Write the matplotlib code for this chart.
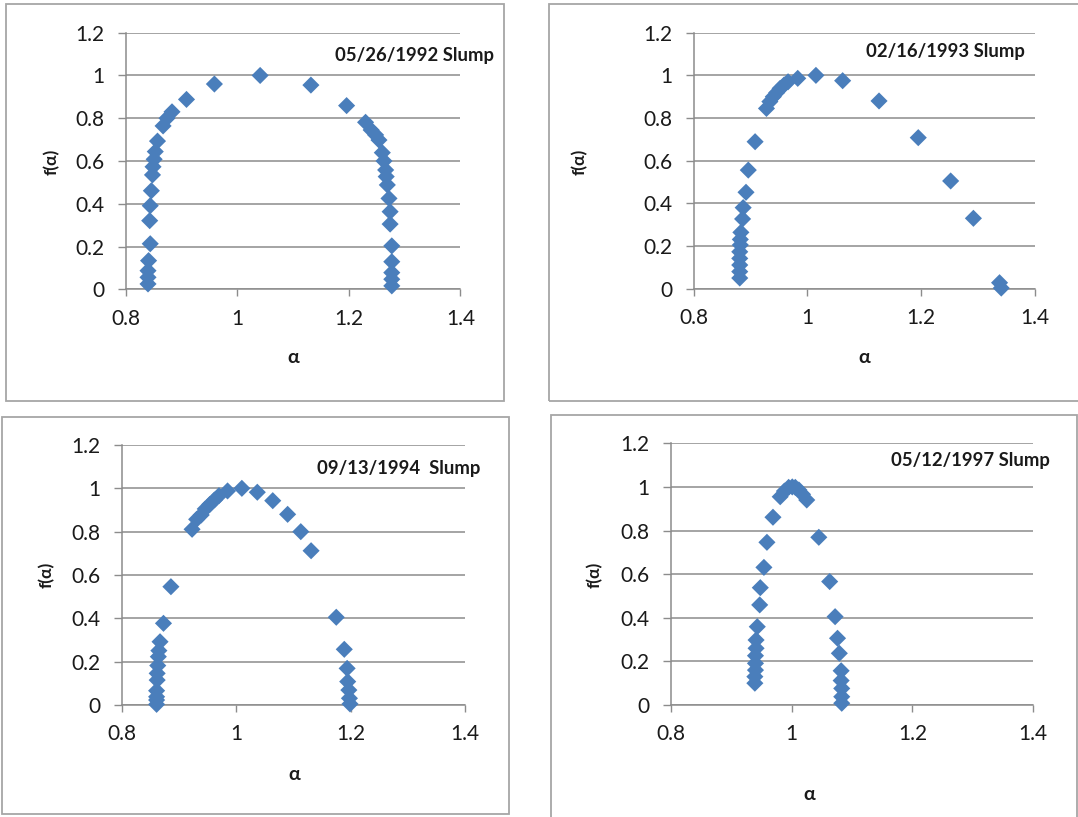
import matplotlib
matplotlib.use("Agg")
import matplotlib.pyplot as plt
from matplotlib.patches import Rectangle

# multifractal spectra
alpha_1992 = [0.840, 0.840, 0.840, 0.841, 0.844, 0.843, 0.844, 0.846, 0.848, 0.849,
              0.851, 0.853, 0.857, 0.867, 0.874, 0.883, 0.909, 0.959, 1.041, 1.132,
              1.196, 1.230, 1.240, 1.248, 1.254, 1.260, 1.263, 1.266, 1.267, 1.269,
              1.272, 1.274, 1.274, 1.277, 1.277, 1.277, 1.277, 1.277]
f_1992 = [0.025, 0.056, 0.087, 0.134, 0.213, 0.321, 0.391, 0.461, 0.535, 0.573,
          0.608, 0.644, 0.693, 0.764, 0.800, 0.830, 0.888, 0.960, 1.000, 0.955,
          0.859, 0.781, 0.745, 0.722, 0.698, 0.639, 0.600, 0.558, 0.527, 0.488,
          0.425, 0.363, 0.305, 0.203, 0.129, 0.078, 0.047, 0.016]

alpha_1993 = [0.881, 0.881, 0.881, 0.881, 0.881, 0.882, 0.882, 0.883, 0.886, 0.887,
              0.892, 0.896, 0.908, 0.928, 0.934, 0.940, 0.946, 0.952, 0.959, 0.966,
              0.983, 1.015, 1.062, 1.126, 1.195, 1.252, 1.292, 1.338, 1.341]
f_1993 = [0.050, 0.080, 0.111, 0.142, 0.173, 0.205, 0.231, 0.264, 0.327, 0.380,
          0.452, 0.556, 0.689, 0.845, 0.877, 0.900, 0.919, 0.939, 0.955, 0.970,
          0.986, 1.000, 0.975, 0.880, 0.708, 0.505, 0.330, 0.028, 0.003]

alpha_1994 = [0.861, 0.861, 0.861, 0.861, 0.862, 0.862, 0.863, 0.864, 0.865, 0.867,
              0.873, 0.886, 0.923, 0.931, 0.939, 0.946, 0.954, 0.962, 0.970, 0.985,
              1.010, 1.037, 1.064, 1.090, 1.113, 1.131, 1.175, 1.189, 1.194, 1.195,
              1.197, 1.198, 1.199]
f_1994 = [0.003, 0.023, 0.038, 0.066, 0.115, 0.146, 0.182, 0.223, 0.251, 0.292,
          0.377, 0.546, 0.811, 0.857, 0.877, 0.905, 0.926, 0.946, 0.966, 0.988,
          1.000, 0.982, 0.943, 0.880, 0.800, 0.712, 0.405, 0.257, 0.169, 0.108,
          0.069, 0.031, 0.005]

alpha_1997 = [0.939, 0.939, 0.940, 0.940, 0.940, 0.941, 0.941, 0.943, 0.947, 0.948,
              0.954, 0.959, 0.969, 0.981, 0.988, 0.995, 1.001, 1.006, 1.012, 1.018,
              1.025, 1.045, 1.063, 1.072, 1.076, 1.079, 1.082, 1.082, 1.083, 1.083,
              1.083]
f_1997 = [0.100, 0.130, 0.160, 0.191, 0.226, 0.260, 0.298, 0.359, 0.459, 0.538,
          0.631, 0.746, 0.861, 0.955, 0.981, 0.998, 1.000, 0.998, 0.986, 0.966,
          0.940, 0.769, 0.566, 0.405, 0.306, 0.237, 0.157, 0.112, 0.076, 0.038,
          0.008]

titles = ["05/26/1992 Slump", "02/16/1993 Slump", "09/13/1994  Slump", "05/12/1997 Slump"]
x_ticks = [0.8, 1, 1.2, 1.4]
x_tick_labels = ["0.8", "1", "1.2", "1.4"]
y_ticks = [0, 0.2, 0.4, 0.6, 0.8, 1, 1.2]
y_tick_labels = ["0", "0.2", "0.4", "0.6", "0.8", "1", "1.2"]

W, H = 1078, 817
BLUE = "#4A7EBB"
GRID = "#8C8C8C"
FRAME = "#A6A6A6"
TEXT = "#1A1A1A"
FONT = ["Lato", "DejaVu Sans"]

# pixel layout of each panel: axes box (left, top, right, bottom), frame box,
# title (left, centre y), x label (x, y), y label (x, y)
panels = [
    dict(ax=(125.7, 32.7, 460.4, 289.3), frame=(6, 4, 504, 401),
         title=(335, 55), xlab=(293, 358), ylab=(52, 162)),
    dict(ax=(693.7, 32.7, 1034.8, 288.7), frame=(549, 4, 1090, 401),
         title=(866, 51), xlab=(864, 358), ylab=(580, 162)),
    dict(ax=(121.7, 445, 465, 705), frame=(2, 417, 509, 814),
         title=(317, 468), xlab=(294, 774), ylab=(47, 575)),
    dict(ax=(671, 443.3, 1033, 705), frame=(550.5, 415, 1077, 830),
         title=(891, 461), xlab=(809, 795), ylab=(595, 575)),
]
series = [(alpha_1992, f_1992), (alpha_1993, f_1993),
          (alpha_1994, f_1994), (alpha_1997, f_1997)]

fig = plt.figure(figsize=(W / 100, H / 100), dpi=100)

for p, (xs, ys), title in zip(panels, series, titles):
    fl, ft, fr, fb = p["frame"]
    fig.patches.append(Rectangle((fl / W, 1 - fb / H), (fr - fl) / W, (fb - ft) / H,
                                 transform=fig.transFigure, fill=False,
                                 edgecolor=FRAME, linewidth=1.3))

    l, t, r, b = p["ax"]
    ax = fig.add_axes([l / W, 1 - b / H, (r - l) / W, (b - t) / H])
    ax.scatter(xs, ys, marker="D", s=76, color=BLUE, edgecolors="none",
               zorder=3, clip_on=False)
    ax.set_xlim(0.8, 1.4)
    ax.set_ylim(0, 1.2)
    ax.set_xticks(x_ticks)
    ax.set_xticklabels(x_tick_labels, fontsize=15, family=FONT, color=TEXT)
    ax.set_yticks(y_ticks)
    ax.set_yticklabels(y_tick_labels, fontsize=15, family=FONT, color=TEXT)
    ax.tick_params(axis="y", length=5.5, width=1, color=GRID, pad=10)
    ax.tick_params(axis="x", length=5, width=1, color=GRID, pad=9)
    ax.grid(axis="y", color=GRID, linewidth=1.1)
    ax.set_axisbelow(True)
    for side in ("top", "right"):
        ax.spines[side].set_visible(False)
    for side in ("left", "bottom"):
        ax.spines[side].set_color(GRID)
        ax.spines[side].set_linewidth(1.1)

    tx, ty = p["title"]
    fig.text(tx / W, 1 - ty / H, title, fontsize=13.3, fontweight="bold",
             family=FONT, color=TEXT, ha="left", va="center")
    xx, xy = p["xlab"]
    fig.text(xx / W, 1 - xy / H, "α", fontsize=14, fontweight="bold",
             family=FONT, color=TEXT, ha="center", va="center")
    yx, yy = p["ylab"]
    fig.text(yx / W, 1 - yy / H, "f(α)", fontsize=12.5, fontweight="bold",
             family=FONT, color=TEXT, ha="center", va="center",
             rotation=90)

fig.savefig("out.png", dpi=100)
